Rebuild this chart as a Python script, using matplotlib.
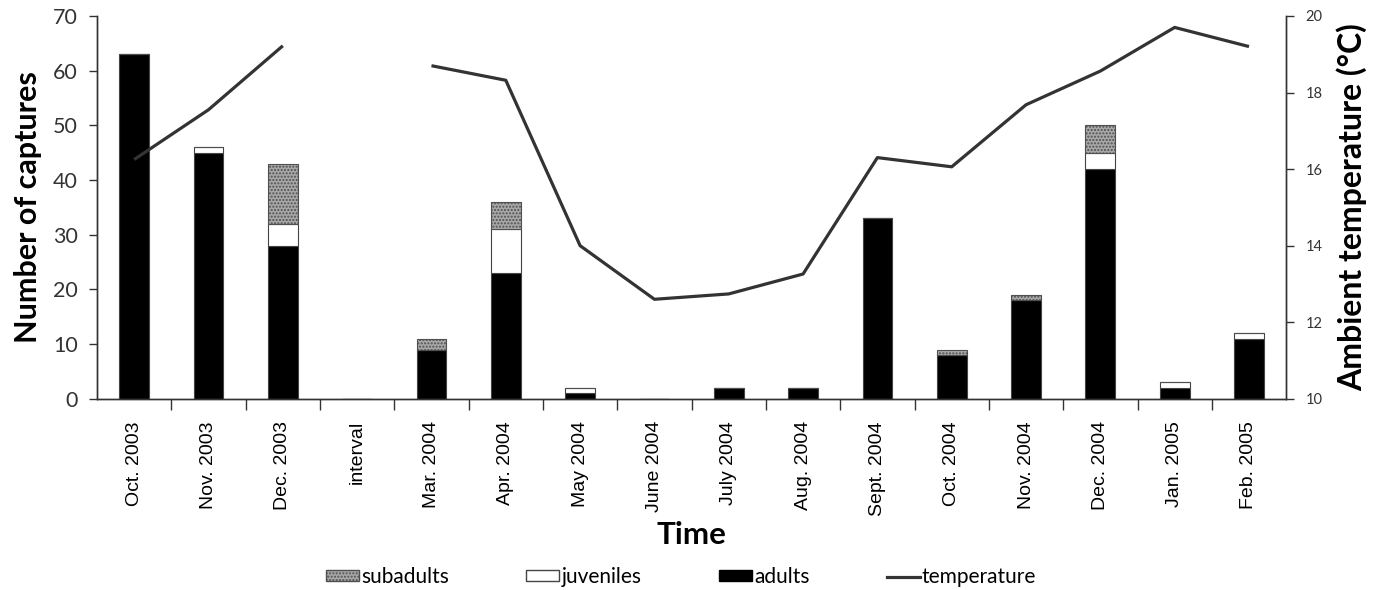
#!/usr/bin/env python3
"""
Monthly captures by age class with ambient temperature
"""

import numpy as np
import matplotlib
matplotlib.use('Agg')
import matplotlib.pyplot as plt
from matplotlib.patches import Patch
from matplotlib.lines import Line2D
from matplotlib.ticker import FixedLocator, NullFormatter

months = ['Oct. 2003', 'Nov. 2003', 'Dec. 2003', 'interval', 'Mar. 2004',
          'Apr. 2004', 'May 2004', 'June 2004', 'July 2004', 'Aug. 2004',
          'Sept. 2004', 'Oct. 2004', 'Nov. 2004', 'Dec. 2004', 'Jan. 2005',
          'Feb. 2005']

adults    = [63, 45, 28, 0, 9, 23, 1, 0, 2, 2, 33, 8, 18, 42, 2, 11]
juveniles = [0, 1, 4, 0, 0, 8, 1, 0, 0, 0, 0, 0, 0, 3, 1, 1]
subadults = [0, 0, 11, 0, 2, 5, 0, 0, 0, 0, 0, 1, 1, 5, 0, 0]

# no temperature record for the interval month
temperature = [16.25, 17.55, 19.22, np.nan, 18.7, 18.32, 14.0, 12.6,
               12.74, 13.26, 16.3, 16.06, 17.68, 18.56, 19.7, 19.2]

label_font = ['Lato', 'DejaVu Sans']
tick_font = ['Liberation Sans', 'DejaVu Sans']
sub_face = '#a8a8a8'
sub_edge = '#505050'

fig = plt.figure(figsize=(13.8, 5.9), dpi=100)
ax = fig.add_axes([0.0703, 0.324, 0.8617, 0.649])
ax2 = ax.twinx()

x = np.arange(len(months))
w = 0.4
adults = np.array(adults)
juveniles = np.array(juveniles)
subadults = np.array(subadults)

ax.bar(x, adults, w, color='black', edgecolor='#444444', linewidth=0.8, zorder=2)
ax.bar(x, juveniles, w, bottom=adults, color='white', edgecolor='#444444',
       linewidth=0.8, zorder=2)
ax.bar(x, subadults, w, bottom=adults + juveniles, color=sub_face,
       edgecolor=sub_edge, hatch='.....', linewidth=0.8, zorder=2)

ax2.plot(x, temperature, color='#333333', lw=2.3, solid_capstyle='butt')

ax.set_xlim(-0.5, len(months) - 0.5)
ax.set_ylim(0, 70)
ax.set_yticks(range(0, 71, 10))
ax2.set_ylim(10, 20)
ax2.set_yticks(range(10, 21, 2))

ax.set_xticks(x)
ax.set_xticklabels(months, rotation=90, fontsize=14, family=tick_font)
ax.tick_params(axis='x', which='major', length=0, pad=16)
ax.xaxis.set_minor_locator(FixedLocator(np.arange(0.5, len(months) - 1, 1.0)))
ax.xaxis.set_minor_formatter(NullFormatter())
ax.tick_params(axis='x', which='minor', length=8, width=1, color='#333333')

for lab in ax.get_yticklabels():
    lab.set_family(label_font)
ax.tick_params(axis='y', labelsize=15.5, length=6, width=1, color='#333333',
               labelcolor='#333333', pad=8)
for lab in ax2.get_yticklabels():
    lab.set_family(label_font)
ax2.tick_params(axis='y', labelsize=10.5, length=6, width=1, color='#333333',
                labelcolor='#333333', pad=8)

for a in (ax, ax2):
    a.spines['top'].set_visible(False)
    for s in ('left', 'right', 'bottom'):
        a.spines[s].set_color('#333333')
        a.spines[s].set_linewidth(1.0)

ax.set_ylabel('Number of captures', fontsize=22, fontweight='bold',
              family=label_font, labelpad=8)
ax2.set_ylabel('Ambient temperature (°C)', fontsize=23, fontweight='bold',
               family=label_font, labelpad=10)
ax.set_xlabel('Time', fontsize=22.5, fontweight='bold', family=label_font,
              labelpad=4)

handles = [
    Patch(facecolor=sub_face, edgecolor=sub_edge, hatch='.....', label='subadults'),
    Patch(facecolor='white', edgecolor='#444444', label='juveniles'),
    Patch(facecolor='black', edgecolor='black', label='adults'),
    Line2D([0], [0], color='#333333', lw=2.3, label='temperature'),
]
fig.legend(handles=handles, loc='center', bbox_to_anchor=(0.4935, 0.022),
           ncol=4, frameon=False, handlelength=1.6, handleheight=0.45,
           handletextpad=0.1, columnspacing=3.7, borderaxespad=0,
           prop={'family': label_font, 'size': 15})

fig.savefig('out.png', dpi=100)
